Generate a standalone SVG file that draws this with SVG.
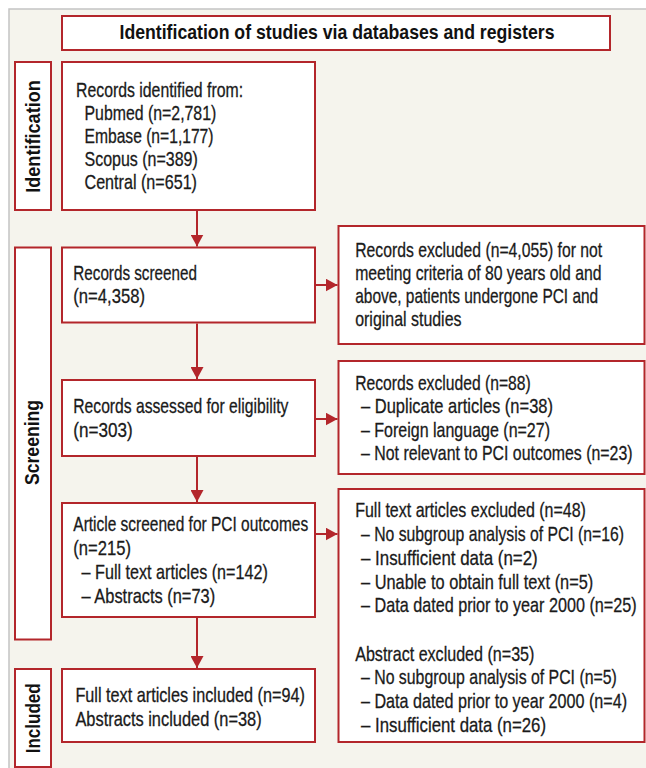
<svg xmlns="http://www.w3.org/2000/svg" width="646" height="768" viewBox="0 0 646 768">
<defs>
<style>
.box{fill:#ffffff;stroke:#b3262b;stroke-width:2}
.t{font-family:"Liberation Sans",Arial,sans-serif;font-size:21px;fill:#1a1a1a;stroke:#1a1a1a;stroke-width:0.3}
.b{font-family:"Liberation Sans",Arial,sans-serif;font-size:20px;font-weight:bold;fill:#111111}
.lab{font-family:"Liberation Sans",Arial,sans-serif;font-size:21px;font-weight:bold;fill:#111111}
.c{fill:none;stroke:#b3262b;stroke-width:2}
</style>
<marker id="ah" markerUnits="userSpaceOnUse" markerWidth="13" markerHeight="13" refX="12" refY="6.5" orient="auto">
<path d="M0,0 L12,6.5 L0,13 z" fill="#b3262b"/>
</marker>
</defs>
<rect x="0" y="0" width="646" height="768" fill="#ffffff"/>
<rect x="9" y="9" width="645" height="770" fill="#f5f4ed" stroke="#c4c4c4" stroke-width="1.5"/>

<g id="title">
<rect class="box" x="62" y="16" width="548" height="34"/>
<text class="b" transform="translate(119.5,38.5) scale(0.88,1)" textLength="494.3" lengthAdjust="spacingAndGlyphs">Identification of studies via databases and registers</text>
</g>

<g id="label-identification">
<rect class="box" x="15" y="62" width="36" height="148"/>
<text class="lab" transform="translate(40,136.5) rotate(-90) scale(0.86,1)" x="-65.5" y="0" textLength="131" lengthAdjust="spacingAndGlyphs">Identification</text>
</g>

<g id="label-screening">
<rect class="box" x="15" y="247.5" width="36" height="392"/>
<text class="lab" transform="translate(38.5,442.5) rotate(-90) scale(0.84,1)" x="-50.6" y="0" textLength="101.2" lengthAdjust="spacingAndGlyphs">Screening</text>
</g>

<g id="label-included">
<rect class="box" x="15" y="669" width="36" height="98"/>
<text class="lab" transform="translate(40,718.3) rotate(-90) scale(0.82,1)" x="-42.7" y="0" textLength="85.4" lengthAdjust="spacingAndGlyphs">Included</text>
</g>

<g id="records-identified">
<rect class="box" x="62" y="62" width="253" height="148"/>
<text class="t" transform="translate(76,96.5) scale(0.75,1)" textLength="222.7" lengthAdjust="spacingAndGlyphs">Records identified from:</text>
<text class="t" transform="translate(84.5,119.5) scale(0.75,1)" textLength="175.7" lengthAdjust="spacingAndGlyphs">Pubmed (n=2,781)</text>
<text class="t" transform="translate(84.5,142.5) scale(0.75,1)" textLength="172" lengthAdjust="spacingAndGlyphs">Embase (n=1,177)</text>
<text class="t" transform="translate(84.5,165.5) scale(0.75,1)" textLength="151.1" lengthAdjust="spacingAndGlyphs">Scopus (n=389)</text>
<text class="t" transform="translate(84.5,188.5) scale(0.75,1)" textLength="150" lengthAdjust="spacingAndGlyphs">Central (n=651)</text>
</g>

<g id="records-screened">
<rect class="box" x="62" y="247.5" width="253" height="75"/>
<text class="t" transform="translate(73.3,280) scale(0.75,1)" textLength="164.8" lengthAdjust="spacingAndGlyphs">Records screened</text>
<text class="t" transform="translate(73.3,303.2) scale(0.75,1)" textLength="95.6" lengthAdjust="spacingAndGlyphs">(n=4,358)</text>
</g>

<g id="excluded-1">
<rect class="box" x="338.5" y="226" width="306" height="118"/>
<text class="t" transform="translate(355.2,256.5) scale(0.75,1)" textLength="329.3" lengthAdjust="spacingAndGlyphs">Records excluded (n=4,055) for not</text>
<text class="t" transform="translate(355.2,279.5) scale(0.75,1)" textLength="328.5" lengthAdjust="spacingAndGlyphs">meeting criteria of 80 years old and</text>
<text class="t" transform="translate(355.2,302.5) scale(0.75,1)" textLength="324" lengthAdjust="spacingAndGlyphs">above, patients undergone PCI and</text>
<text class="t" transform="translate(355.2,325.5) scale(0.75,1)" textLength="141.7" lengthAdjust="spacingAndGlyphs">original studies</text>
</g>

<g id="records-assessed">
<rect class="box" x="62" y="380" width="253" height="76"/>
<text class="t" transform="translate(73.3,413.3) scale(0.75,1)" textLength="286.7" lengthAdjust="spacingAndGlyphs">Records assessed for eligibility</text>
<text class="t" transform="translate(73.3,436.5) scale(0.75,1)" textLength="79.2" lengthAdjust="spacingAndGlyphs">(n=303)</text>
</g>

<g id="excluded-2">
<rect class="box" x="338.5" y="361" width="306" height="113"/>
<text class="t" transform="translate(355.2,390) scale(0.75,1)" textLength="234" lengthAdjust="spacingAndGlyphs">Records excluded (n=88)</text>
<text class="t" transform="translate(361,413.2) scale(0.75,1)" textLength="256" lengthAdjust="spacingAndGlyphs">– Duplicate articles (n=38)</text>
<text class="t" transform="translate(361,436.5) scale(0.75,1)" textLength="252" lengthAdjust="spacingAndGlyphs">– Foreign language (n=27)</text>
<text class="t" transform="translate(361,459.8) scale(0.75,1)" textLength="362" lengthAdjust="spacingAndGlyphs">– Not relevant to PCI outcomes (n=23)</text>
</g>

<g id="article-screened">
<rect class="box" x="62" y="503" width="253" height="114"/>
<text class="t" transform="translate(73.3,530.8) scale(0.75,1)" textLength="313.2" lengthAdjust="spacingAndGlyphs">Article screened for PCI outcomes</text>
<text class="t" transform="translate(73.3,554.5) scale(0.75,1)" textLength="76.9" lengthAdjust="spacingAndGlyphs">(n=215)</text>
<text class="t" transform="translate(81.6,578.5) scale(0.75,1)" textLength="248.3" lengthAdjust="spacingAndGlyphs">– Full text articles (n=142)</text>
<text class="t" transform="translate(81.6,602.5) scale(0.75,1)" textLength="178" lengthAdjust="spacingAndGlyphs">– Abstracts (n=73)</text>
</g>

<g id="excluded-3">
<rect class="box" x="338.5" y="489" width="306" height="253"/>
<text class="t" transform="translate(355.2,517.3) scale(0.75,1)" textLength="307.6" lengthAdjust="spacingAndGlyphs">Full text articles excluded (n=48)</text>
<text class="t" transform="translate(361,541.1) scale(0.75,1)" textLength="350.7" lengthAdjust="spacingAndGlyphs">– No subgroup analysis of PCI (n=16)</text>
<text class="t" transform="translate(361,564.8) scale(0.75,1)" textLength="235.6" lengthAdjust="spacingAndGlyphs">– Insufficient data (n=2)</text>
<text class="t" transform="translate(361,588.5) scale(0.75,1)" textLength="309.7" lengthAdjust="spacingAndGlyphs">– Unable to obtain full text (n=5)</text>
<text class="t" transform="translate(361,612.3) scale(0.75,1)" textLength="367.5" lengthAdjust="spacingAndGlyphs">– Data dated prior to year 2000 (n=25)</text>
<text class="t" transform="translate(355.2,660.5) scale(0.75,1)" textLength="238.9" lengthAdjust="spacingAndGlyphs">Abstract excluded (n=35)</text>
<text class="t" transform="translate(361,684.3) scale(0.75,1)" textLength="341.1" lengthAdjust="spacingAndGlyphs">– No subgroup analysis of PCI (n=5)</text>
<text class="t" transform="translate(361,708) scale(0.75,1)" textLength="354.7" lengthAdjust="spacingAndGlyphs">– Data dated prior to year 2000 (n=4)</text>
<text class="t" transform="translate(361,731.8) scale(0.75,1)" textLength="246.7" lengthAdjust="spacingAndGlyphs">– Insufficient data (n=26)</text>
</g>

<g id="included">
<rect class="box" x="62" y="669" width="253" height="73"/>
<text class="t" transform="translate(75.4,701.5) scale(0.75,1)" textLength="306" lengthAdjust="spacingAndGlyphs">Full text articles included (n=94)</text>
<text class="t" transform="translate(75.4,725.5) scale(0.75,1)" textLength="248.3" lengthAdjust="spacingAndGlyphs">Abstracts included (n=38)</text>
</g>

<g id="connectors">
<path class="c" d="M197,211 V246.5" marker-end="url(#ah)"/>
<path class="c" d="M197,323.5 V379" marker-end="url(#ah)"/>
<path class="c" d="M197,457 V502" marker-end="url(#ah)"/>
<path class="c" d="M197,618 V668" marker-end="url(#ah)"/>
<path class="c" d="M316,285 H337.5" marker-end="url(#ah)"/>
<path class="c" d="M316,419 H337.5" marker-end="url(#ah)"/>
<path class="c" d="M316,534 H337.5" marker-end="url(#ah)"/>
</g>
</svg>
